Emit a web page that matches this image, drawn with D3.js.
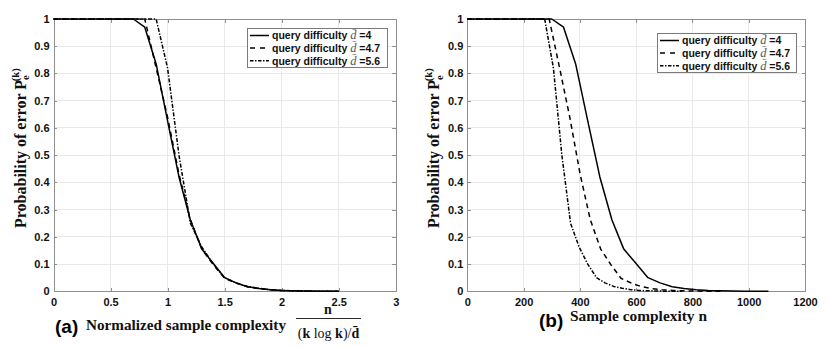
<!DOCTYPE html>
<html><head><meta charset="utf-8">
<script src="https://cdn.jsdelivr.net/npm/d3@7"></script>
<style>body{margin:0;background:#fff} svg{display:block}</style>
</head><body>
<svg id="c" width="830" height="348"></svg>
<script>
// ---- data ----
const normX = [0, 0.7, 0.8, 0.9, 1.0, 1.1, 1.2, 1.3, 1.4, 1.5, 1.6, 1.7, 1.8, 1.9, 2.0, 2.1, 2.2, 2.3, 2.4, 2.5];
const peD4  = [1, 1, 0.97, 0.835, 0.626, 0.42, 0.262, 0.155, 0.103, 0.05, 0.031, 0.017, 0.010, 0.006, 0.003, 0.002, 0.001, 0.0005, 0.0002, 0];
const peD47 = [1, 1, 1, 0.82, 0.64, 0.43, 0.263, 0.155, 0.098, 0.048, 0.030, 0.017, 0.010, 0.006, 0.003, 0.002, 0.001, 0.0005, 0.0002, 0];
const peD56 = [1, 1, 1, 1, 0.82, 0.50, 0.25, 0.163, 0.10, 0.05, 0.031, 0.018, 0.011, 0.006, 0.003, 0.002, 0.001, 0.0005, 0.0002, 0];
const nD4  = [0, 300, 342, 385, 428, 471, 514, 556, 599, 642, 685, 728, 770, 813, 856, 899, 942, 984, 1027, 1070];
const nD47 = [0, 255, 291, 328, 364, 401, 437, 474, 510, 546, 583, 619, 656, 692, 729, 765, 801, 838, 874, 911];
const nD56 = [0, 214, 245, 275, 306, 336, 367, 397, 428, 459, 489, 520, 550, 581, 611, 642, 673, 703, 734, 764];
const seriesNames = ["4", "4.7", "5.6"];
const xTicksA = [0, 0.5, 1, 1.5, 2, 2.5, 3];
const xTicksB = [0, 200, 400, 600, 800, 1000, 1200];
const yTicks = [0, 0.1, 0.2, 0.3, 0.4, 0.5, 0.6, 0.7, 0.8, 0.9, 1];

const dashes = [null, "5,4", "4,1.6,1.4,1.6"];
const legendDash = [null, "5,5", "3.5,1.5,1.5,1.5"];
const svg = d3.select("#c");
const SANS = "'Liberation Sans', Arial, sans-serif";
const SERIF = "'Liberation Serif', 'Times New Roman', serif";
const BOX = "#8f8f8f";

function panel(cfg) {
  const x = d3.scaleLinear().domain(cfg.xDomain).range([cfg.x0, cfg.x1]);
  const y = d3.scaleLinear().domain([0, 1]).range([291.3, 19]);
  const g = svg.append("g");
  // grid
  g.append("g").selectAll("line").data(cfg.xTicks.slice(1, -1)).join("line")
    .attr("x1", d => x(d)).attr("x2", d => x(d)).attr("y1", y(0)).attr("y2", y(1))
    .attr("stroke", "#e9e9e9").attr("stroke-width", 1).attr("shape-rendering", "crispEdges");
  g.append("g").selectAll("line").data(yTicks.slice(1, -1)).join("line")
    .attr("x1", x.range()[0]).attr("x2", x.range()[1]).attr("y1", d => y(d)).attr("y2", d => y(d))
    .attr("stroke", "#e9e9e9").attr("stroke-width", 1).attr("shape-rendering", "crispEdges");

  const axB = d3.axisBottom(x).tickValues(cfg.xTicks).tickSizeInner(-3.5).tickSizeOuter(0).tickPadding(6.5).tickFormat(d3.format("~g"));
  const axT = d3.axisTop(x).tickValues(cfg.xTicks).tickSizeInner(-3.5).tickSizeOuter(0).tickFormat("");
  const axL = d3.axisLeft(y).tickValues(yTicks).tickSizeInner(-3.5).tickSizeOuter(0).tickPadding(4).tickFormat(d3.format("~g"));
  const axR = d3.axisRight(y).tickValues(yTicks).tickSizeInner(-3.5).tickSizeOuter(0).tickFormat("");
  const style = sel => {
    sel.selectAll("path.domain").attr("stroke", BOX).attr("shape-rendering", "crispEdges");
    sel.selectAll(".tick line").attr("stroke", BOX).attr("shape-rendering", "crispEdges");
    sel.selectAll("text").attr("font-family", SANS).attr("font-weight", "bold").attr("font-size", 11).attr("fill", "#111");
  };
  g.append("g").attr("transform", `translate(0,${y(0)})`).call(axB).call(style);
  g.append("g").attr("transform", `translate(0,${y(1)})`).call(axT).call(style);
  g.append("g").attr("transform", `translate(${x.range()[0]},0)`).call(axL).call(style);
  g.append("g").attr("transform", `translate(${x.range()[1]},0)`).call(axR).call(style);

  // curves
  const line = d3.line().x(d => x(d[0])).y(d => y(d[1]));
  cfg.series.forEach((s, i) => {
    g.append("path").datum(s.xs.map((v, j) => [v, s.ys[j]]))
      .attr("d", line).attr("fill", "none").attr("stroke", "#000")
      .attr("stroke-width", 1.5).attr("stroke-dasharray", dashes[i]).attr("stroke-linejoin", "round");
  });

  // legend
  const L = cfg.legend;
  const lg = g.append("g");
  lg.append("rect").attr("x", L.x).attr("y", L.y).attr("width", L.w).attr("height", L.h)
    .attr("fill", "#fff").attr("stroke", "#7a7a7a").attr("stroke-width", 1).attr("shape-rendering", "crispEdges");
  seriesNames.forEach((nm, i) => {
    const cy = L.y + 7 + i * 12.6;
    lg.append("line").attr("x1", L.x + 3).attr("x2", L.x + 22).attr("y1", cy).attr("y2", cy)
      .attr("stroke", "#000").attr("stroke-width", 1.5).attr("stroke-dasharray", legendDash[i]);
    const t = lg.append("text").attr("x", L.x + 25).attr("y", cy + 3.8)
      .attr("font-family", SANS).attr("font-weight", "bold").attr("font-size", 10.5).attr("fill", "#111");
    t.append("tspan").text("query difficulty ");
    t.append("tspan").attr("font-family", SERIF).attr("font-style", "italic").attr("font-weight", "normal")
      .attr("font-size", 12.5).attr("fill", "#555").text("d\u0304");
    t.append("tspan").text(" =" + nm);
  });

  // y label
  const yl = g.append("g").attr("transform", `translate(${x.range()[0] - 28},228) rotate(-90)`);
  const yt = yl.append("text").attr("x", 0).attr("y", 0)
    .attr("font-family", SERIF).attr("font-weight", "bold").attr("font-size", 16).attr("fill", "#111");
  yt.append("tspan").text("Probability of error P");
  yt.append("tspan").attr("font-size", 10.5).attr("dy", 3.5).text("e");
  yt.append("tspan").attr("font-size", 10.5).attr("dx", -5.8).attr("dy", -10.5).text("(k)");

  return { x, y, g };
}

const pA = panel({
  xDomain: [0, 3], x0: 53.5, x1: 395.7, xTicks: xTicksA,
  series: [{ xs: normX, ys: peD4 }, { xs: normX, ys: peD47 }, { xs: normX, ys: peD56 }],
  legend: { x: 247, y: 28.5, w: 140, h: 39 }
});
const pB = panel({
  xDomain: [0, 1200], x0: 467.3, x1: 805, xTicks: xTicksB,
  series: [{ xs: nD4, ys: peD4 }, { xs: nD47, ys: peD47 }, { xs: nD56, ys: peD56 }],
  legend: { x: 657, y: 33.5, w: 139, h: 39 }
});

// x labels
svg.append("text").attr("x", 55).attr("y", 333).attr("font-family", SANS).attr("font-weight", "bold")
  .attr("font-size", 19).attr("fill", "#000").text("(a)");
svg.append("text").attr("x", 86).attr("y", 330).attr("font-family", SERIF).attr("font-weight", "bold")
  .attr("font-size", 15).attr("fill", "#111").attr("textLength", 200).attr("lengthAdjust", "spacingAndGlyphs")
  .text("Normalized sample complexity");
svg.append("text").attr("x", 328).attr("y", 314).attr("text-anchor", "middle").attr("font-family", SERIF)
  .attr("font-weight", "bold").attr("font-size", 14).attr("fill", "#111").text("n");
svg.append("line").attr("x1", 296).attr("x2", 361).attr("y1", 318.5).attr("y2", 318.5).attr("stroke", "#111").attr("stroke-width", 0.9);
const den = svg.append("text").attr("x", 328.5).attr("y", 338).attr("text-anchor", "middle").attr("font-family", SERIF)
  .attr("font-size", 14).attr("fill", "#111");
den.append("tspan").text("(");
den.append("tspan").attr("font-weight", "bold").text("k");
den.append("tspan").text(" log ");
den.append("tspan").attr("font-weight", "bold").text("k");
den.append("tspan").text(")/");
den.append("tspan").attr("font-weight", "bold").text("d\u0304");

svg.append("text").attr("x", 539).attr("y", 327).attr("font-family", SANS).attr("font-weight", "bold")
  .attr("font-size", 19).attr("fill", "#000").text("(b)");
svg.append("text").attr("x", 570).attr("y", 321).attr("font-family", SERIF).attr("font-weight", "bold")
  .attr("font-size", 15).attr("fill", "#111").attr("textLength", 137).attr("lengthAdjust", "spacingAndGlyphs")
  .text("Sample complexity n");
</script>
</body></html>
